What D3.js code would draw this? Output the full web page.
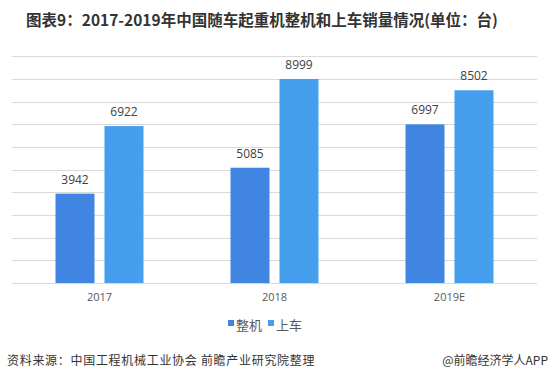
<!DOCTYPE html>
<html><head><meta charset="utf-8">
<script src="https://cdn.jsdelivr.net/npm/d3@7"></script>
<style>
html,body{margin:0;padding:0;background:#fff;}
svg{display:block;font-family:"Noto Sans CJK SC","Microsoft YaHei",sans-serif;}
</style></head>
<body><svg id="c" width="548" height="380"></svg>
<script>
const categories = ["2017", "2018", "2019E"];
const seriesNames = ["整机", "上车"];
const wholeMachine = [3942, 5085, 6997];
const upperCar = [6922, 8999, 8502];
const yTicks = [0,1000,2000,3000,4000,5000,6000,7000,8000,9000,10000];
const colors = ["#4185E2", "#459FEC"];
const titleText = "图表9：2017-2019年中国随车起重机整机和上车销量情况(单位：台)";
const sourceText = "资料来源：中国工程机械工业协会 前瞻产业研究院整理";
const brandText = "@前瞻经济学人APP";

const seriesValues = [wholeMachine, upperCar];
const svg = d3.select("#c");

const x0 = d3.scaleBand().domain(categories).range([12, 537]);
const x1 = d3.scaleBand().domain(seriesNames).range([0, x0.bandwidth()]).paddingInner(0.204).paddingOuter(0.888);
const y = d3.scaleLinear().domain([0, 10000]).range([283, 56.3]);

// grid
svg.append("g").selectAll("line").data(yTicks).join("line")
  .attr("x1", 12).attr("x2", 537)
  .attr("y1", d => Math.round(y(d)) + 0.5).attr("y2", d => Math.round(y(d)) + 0.5)
  .attr("stroke", "#d9d9d9").attr("stroke-width", 1);

// bars
const groups = svg.append("g").selectAll("g").data(categories).join("g")
  .attr("transform", d => `translate(${x0(d)},0)`);
groups.each(function(cat, ci){
  const g = d3.select(this);
  seriesNames.forEach((s, si) => {
    const v = seriesValues[si][ci];
    g.append("rect").attr("x", x1(s)).attr("width", x1.bandwidth())
      .attr("y", y(v)).attr("height", y(0) - y(v)).attr("fill", colors[si]);
    g.append("text").attr("x", x1(s) + x1.bandwidth()/2).attr("y", y(v) - 10)
      .attr("text-anchor", "middle").attr("font-size", 12).attr("fill", "#404040")
      .attr("font-family", "'Open Sans','Noto Sans',sans-serif").text(v);
  });
});

// x axis labels
const xAxis = d3.axisBottom(x0).tickSize(0).tickPadding(10);
const xa = svg.append("g").attr("transform", "translate(0,283)").call(xAxis);
xa.select(".domain").remove();
xa.selectAll("text").attr("font-size", 11).attr("fill", "#595959")
  .attr("font-family", "'Open Sans','Noto Sans',sans-serif");

// legend
const legend = svg.append("g").attr("transform", "translate(228,325)");
const lx = [0, 40];
seriesNames.forEach((s, i) => {
  legend.append("rect").attr("x", lx[i]).attr("y", -5).attr("width", 6).attr("height", 6).attr("fill", colors[i]);
  legend.append("text").attr("x", lx[i] + 8).attr("y", 0).attr("dy", "0.38em")
    .attr("font-size", 13).attr("fill", "#595959").text(s);
});

// title
svg.append("text").attr("x", 262).attr("y", 26).attr("text-anchor", "middle")
  .attr("font-size", 15.5).attr("font-weight", "bold").attr("fill", "#333").text(titleText);

// source
svg.append("text").attr("x", 7).attr("y", 365).attr("font-size", 12).attr("letter-spacing", 0.7)
  .attr("fill", "#333").text(sourceText);
svg.append("text").attr("x", 548).attr("y", 365).attr("text-anchor", "end").attr("font-size", 12)
  .attr("fill", "#333").text(brandText);
</script></body></html>
